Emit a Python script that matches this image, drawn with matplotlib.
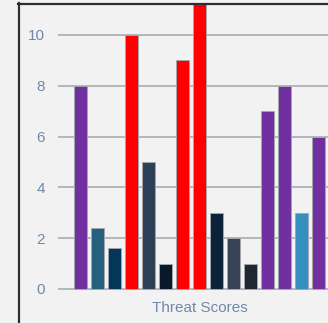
import matplotlib.pyplot as plt
from matplotlib.lines import Line2D

# threat score per item, left to right
scores = [8, 2.4, 1.6, 10, 5, 1, 9, 12, 3, 2, 1, 7, 8, 3, 6]
colors = ['#7030a0', '#24617f', '#03375a', '#ff0000', '#2e4057', '#0b1a2b',
          '#ff0000', '#ff0000', '#0b2239', '#384455', '#1e2833', '#7030a0',
          '#7030a0', '#3390bf', '#7030a0']
yticks = [0, 2, 4, 6, 8, 10]
xlabel = 'Threat Scores'

bg = '#f2f2f2'
label_col = '#7088a8'

def main():
    W, H = 328, 323
    fig = plt.figure(figsize=(W / 100, H / 100), dpi=100, facecolor=bg)
    ax = fig.add_axes([58 / W, (H - 291) / H, (W - 58) / W, (291 - 3) / H])
    ax.set_facecolor(bg)

    x = list(range(len(scores)))
    ax.bar(x, scores, width=0.765, color=colors, edgecolor='#a4a6ac',
           linewidth=0.7, zorder=3)

    ax.set_xlim(-1.32, 14.56)
    ax.set_ylim(-2 / 25.4, 286 / 25.4)
    ax.set_yticks(yticks)
    ax.set_xticks([])
    ax.tick_params(axis='y', length=0, pad=9.5, labelsize=11,
                   labelcolor=label_col)
    for t in ax.get_yticklabels():
        t.set_fontfamily('Liberation Sans')
    ax.grid(axis='y', color='#b3b6bc', linewidth=1.4, zorder=1)
    for s in ax.spines.values():
        s.set_visible(False)

    fig.text(199.5 / W, (H - 308) / H, xlabel, ha='center', va='center',
             fontsize=11, color=label_col, family='Liberation Sans')

    # container border, left and top edges
    fig.add_artist(Line2D([18.5 / W, 18.5 / W], [0, (H - 3) / H],
                          color='#2a2e35', linewidth=1.6))
    fig.add_artist(Line2D([18 / W, 1], [(H - 3.5) / H, (H - 3.5) / H],
                          color='#2a2e35', linewidth=1.6))

    fig.savefig('out.png', dpi=100, facecolor=bg)

if __name__ == "__main__":
    main()
